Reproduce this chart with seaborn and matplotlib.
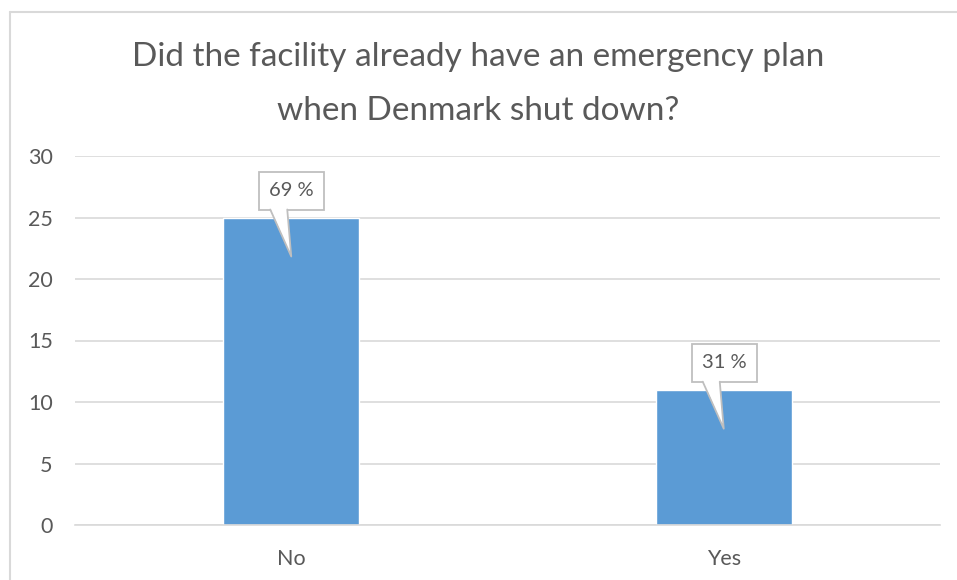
import matplotlib
matplotlib.use("Agg")
import matplotlib.pyplot as plt
import seaborn as sns
import pandas as pd
from matplotlib.lines import Line2D
from matplotlib.patches import Rectangle, Polygon
from matplotlib.transforms import IdentityTransform

categories = ["No", "Yes"]
counts = [25, 11]
percent_labels = ["69 %", "31 %"]
title = "Did the facility already have an emergency plan\nwhen Denmark shut down?"
yticks = [0, 5, 10, 15, 20, 25, 30]

sns.set_theme(style="white")
plt.rcParams["font.family"] = ["Lato", "DejaVu Sans"]

text_color = "#595959"
grid_color = "#d9d9d9"
bar_color = "#5b9bd5"
callout_edge = "#bfbfbf"

DPI = 100
fig = plt.figure(figsize=(9.57, 5.8), dpi=DPI)
ax = fig.add_axes([75/957, 55/580, 865/957, 369/580])

df = pd.DataFrame({"category": categories, "count": counts})
sns.barplot(data=df, x="category", y="count", color=bar_color, saturation=1,
            width=0.315, ax=ax, zorder=2)

ax.set_ylim(0, 30)
ax.set_yticks(yticks)
ax.set_xlim(-0.5, 1.5)
ax.yaxis.grid(True, color=grid_color, linewidth=1.2, zorder=0)
ax.set_axisbelow(True)
for s in ["top", "right", "left"]:
    ax.spines[s].set_visible(False)
ax.spines["bottom"].set_color(grid_color)
ax.spines["bottom"].set_linewidth(1.2)
ax.tick_params(axis="both", length=0, labelsize=15.5, colors=text_color)
ax.tick_params(axis="y", pad=16)
ax.tick_params(axis="x", pad=17)
ax.set_xlabel("")
ax.set_ylabel("")

# callouts (pixel geometry relative to each bar top)
ident = IdentityTransform()
for i, (v, lab) in enumerate(zip(counts, percent_labels)):
    x0, y0 = ax.transData.transform((i, v))
    bx0, bx1 = x0 - 32, x0 + 33
    by0, by1 = y0 + 8, y0 + 46
    rect = Rectangle((bx0, by0), bx1 - bx0, by1 - by0, transform=ident,
                     fc="white", ec=callout_edge, lw=1.3, zorder=5)
    fig.add_artist(rect)
    base_l, base_r = x0 - 21, x0 - 4
    tip = (x0, y0 - 39)
    fill = Polygon([(base_l, by0 + 1.5), (base_r, by0 + 1.5), tip], closed=True,
                   transform=ident, fc="white", ec="none", zorder=6)
    fig.add_artist(fill)
    fig.add_artist(Line2D([base_l, tip[0], base_r], [by0, tip[1], by0],
                          transform=ident, color=callout_edge, lw=1.3, zorder=7))
    fig.text((bx0 + bx1) / 2 / (9.57 * DPI), (by0 + by1) / 2 / (5.8 * DPI), lab,
             ha="center", va="center", fontsize=14.5, color=text_color, zorder=8)

fig.text(478/957, 1 - 84/580, title, ha="center", va="center", fontsize=24,
         color=text_color, linespacing=2.0)

# chart border (top and left visible)
fig.add_artist(Line2D([9.5/957, 1.0], [1 - 12/580, 1 - 12/580], transform=fig.transFigure,
                      color="#d9d9d9", lw=1.5))
fig.add_artist(Line2D([9.5/957, 9.5/957], [0, 1 - 12/580], transform=fig.transFigure,
                      color="#d9d9d9", lw=1.5))

fig.savefig("out.png", dpi=DPI, facecolor="white")
